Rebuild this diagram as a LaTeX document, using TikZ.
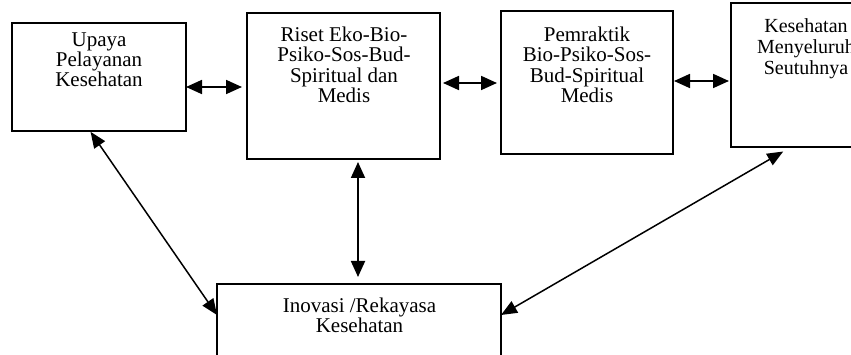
\documentclass[tikz,border=0pt]{standalone}
\usepackage{fontspec}
\setmainfont{Liberation Serif}
\usetikzlibrary{arrows.meta}
\tikzset{
  box/.style={draw=black, line width=2.4pt, inner sep=0pt, outer sep=0pt},
  lbl/.style={inner sep=0pt, outer sep=0pt, align=center, anchor=base},
  link/.style={line width=1.8pt, {Triangle[length=16pt,width=14pt]}-{Triangle[length=16pt,width=14pt]}},
  slant/.style={line width=1.5pt, {Triangle[length=16pt,width=13pt]}-{Triangle[length=16pt,width=13pt]}}
}
\begin{document}
\begin{tikzpicture}[x=1pt,y=-1pt]
\useasboundingbox (0,0) rectangle (851,355);
\clip (0,0) rectangle (851,355);
\fill[white] (0,0) rectangle (851,355);

% boxes
\node[box, minimum width=174pt, minimum height=108pt] (b1) at (99,77) {};
\node[box, minimum width=193pt, minimum height=146pt] (b2) at (343.5,86) {};
\node[box, minimum width=172pt, minimum height=143pt] (b3) at (587,82.5) {};
\node[box, minimum width=150pt, minimum height=144pt] (b4) at (806,75) {};
\node[box, minimum width=284pt, minimum height=96pt] (b5) at (359,332) {};

% labels (anchored at the baseline of the last line)
\node[lbl, font=\fontsize{21}{18.5}\selectfont] (t1) at (99,87) {Upaya\\Pelayanan\\Kesehatan};
\node[lbl, font=\fontsize{21}{20.5}\selectfont] (t2) at (344,103) {Riset Eko-Bio-\\Psiko-Sos-Bud-\\Spiritual dan\\Medis};
\node[lbl, font=\fontsize{21}{20.5}\selectfont] (t3) at (587,103) {Pemraktik\\Bio-Psiko-Sos-\\Bud-Spiritual\\Medis};
\node[lbl, font=\fontsize{20}{21}\selectfont] (t4) at (806,75) {Kesehatan\\Menyeluruh\\Seutuhnya};
\node[lbl, font=\fontsize{21}{20}\selectfont] (t5) at (359.5,332) {Inovasi /Rekayasa\\Kesehatan};

% connectors
\draw[link, shorten >=5pt] (b1.east |- 0,87) -- (b2.west |- 0,87);
\draw[link, shorten <=3pt, shorten >=4pt] (b2.east |- 0,83) -- (b3.west |- 0,83);
\draw[link, shorten <=1pt, shorten >=2pt] (b3.east |- 0,81) -- (b4.west |- 0,81);
\draw[link, shorten <=3pt, shorten >=7pt] (b2.south -| 358,0) -- (b5.north -| 358,0);
\draw[slant, shorten <=1pt] (b1.south -| 90,0) -- (b5.west |- 0,315);
\draw[slant, shorten <=9pt] (b4.south -| 791,0) -- (b5.east |- 0,315);
\end{tikzpicture}
\end{document}
